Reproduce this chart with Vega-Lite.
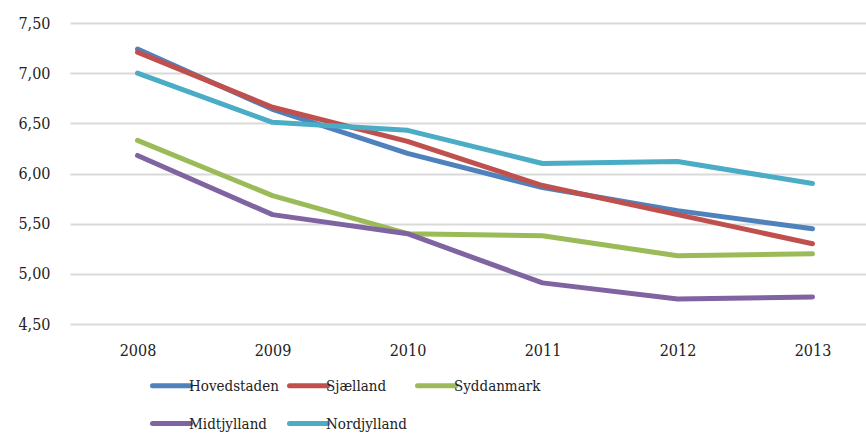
{
  "$schema": "https://vega.github.io/schema/vega-lite/v6.json",
  "autosize": "none",
  "width": 810,
  "height": 301,
  "padding": {"left": 70, "top": 23, "right": 0, "bottom": 114},
  "background": "white",
  "data": {"values": [
    {"year": "2008", "region": "Hovedstaden", "value": 7.24},
    {"year": "2009", "region": "Hovedstaden", "value": 6.64},
    {"year": "2010", "region": "Hovedstaden", "value": 6.20},
    {"year": "2011", "region": "Hovedstaden", "value": 5.86},
    {"year": "2012", "region": "Hovedstaden", "value": 5.63},
    {"year": "2013", "region": "Hovedstaden", "value": 5.45},
    {"year": "2008", "region": "Sjælland", "value": 7.21},
    {"year": "2009", "region": "Sjælland", "value": 6.66},
    {"year": "2010", "region": "Sjælland", "value": 6.32},
    {"year": "2011", "region": "Sjælland", "value": 5.88},
    {"year": "2012", "region": "Sjælland", "value": 5.59},
    {"year": "2013", "region": "Sjælland", "value": 5.30},
    {"year": "2008", "region": "Syddanmark", "value": 6.33},
    {"year": "2009", "region": "Syddanmark", "value": 5.78},
    {"year": "2010", "region": "Syddanmark", "value": 5.40},
    {"year": "2011", "region": "Syddanmark", "value": 5.38},
    {"year": "2012", "region": "Syddanmark", "value": 5.18},
    {"year": "2013", "region": "Syddanmark", "value": 5.20},
    {"year": "2008", "region": "Midtjylland", "value": 6.18},
    {"year": "2009", "region": "Midtjylland", "value": 5.59},
    {"year": "2010", "region": "Midtjylland", "value": 5.40},
    {"year": "2011", "region": "Midtjylland", "value": 4.91},
    {"year": "2012", "region": "Midtjylland", "value": 4.75},
    {"year": "2013", "region": "Midtjylland", "value": 4.77},
    {"year": "2008", "region": "Nordjylland", "value": 7.00},
    {"year": "2009", "region": "Nordjylland", "value": 6.51},
    {"year": "2010", "region": "Nordjylland", "value": 6.43},
    {"year": "2011", "region": "Nordjylland", "value": 6.10},
    {"year": "2012", "region": "Nordjylland", "value": 6.12},
    {"year": "2013", "region": "Nordjylland", "value": 5.90}
  ]},
  "mark": {"type": "line", "strokeWidth": 5, "strokeCap": "round", "strokeJoin": "round"},
  "encoding": {
    "x": {
      "field": "year", "type": "ordinal",
      "axis": {"title": null, "labelAngle": 0, "ticks": false, "domain": false, "labelPadding": 18, "grid": false,
               "labelFont": "DejaVu Serif Condensed", "labelFontSize": 16}
    },
    "y": {
      "field": "value", "type": "quantitative",
      "scale": {"domain": [4.5, 7.5], "nice": false, "zero": false},
      "axis": {
        "title": null, "values": [4.5, 5, 5.5, 6, 6.5, 7, 7.5], "ticks": false, "domain": false,
        "labelPadding": 20, "gridColor": "#D9D9D9", "gridWidth": 2,
        "labelFont": "DejaVu Serif Condensed", "labelFontSize": 16,
        "labelExpr": "replace(format(datum.value, '.2f'), '.', ',')"
      }
    },
    "color": {
      "field": "region", "type": "nominal",
      "sort": ["Hovedstaden", "Sjælland", "Syddanmark", "Midtjylland", "Nordjylland"],
      "scale": {
        "domain": ["Hovedstaden", "Sjælland", "Syddanmark", "Midtjylland", "Nordjylland"],
        "range": ["#4F81BD", "#C0504D", "#9BBB59", "#8064A2", "#4BACC6"]
      },
      "legend": {
        "title": null, "orient": "none", "legendX": 80, "legendY": 341, "columns": 3,
        "direction": "horizontal",
        "symbolType": "stroke", "symbolSize": 1444, "symbolStrokeWidth": 5,
        "labelOffset": -4, "columnPadding": 0, "rowPadding": 6,
        "labelFontSize": 15, "labelFont": "DejaVu Serif Condensed", "labelColor": "#222",
        "labelLimit": 300,
        "encode": {"symbols": {"update": {"strokeCap": {"value": "round"}}}}
      }
    },
    "order": {"field": "year"}
  },
  "config": {
    "font": "DejaVu Serif Condensed",
    "view": {"stroke": null},
    "axis": {"labelColor": "#222"}
  }
}
